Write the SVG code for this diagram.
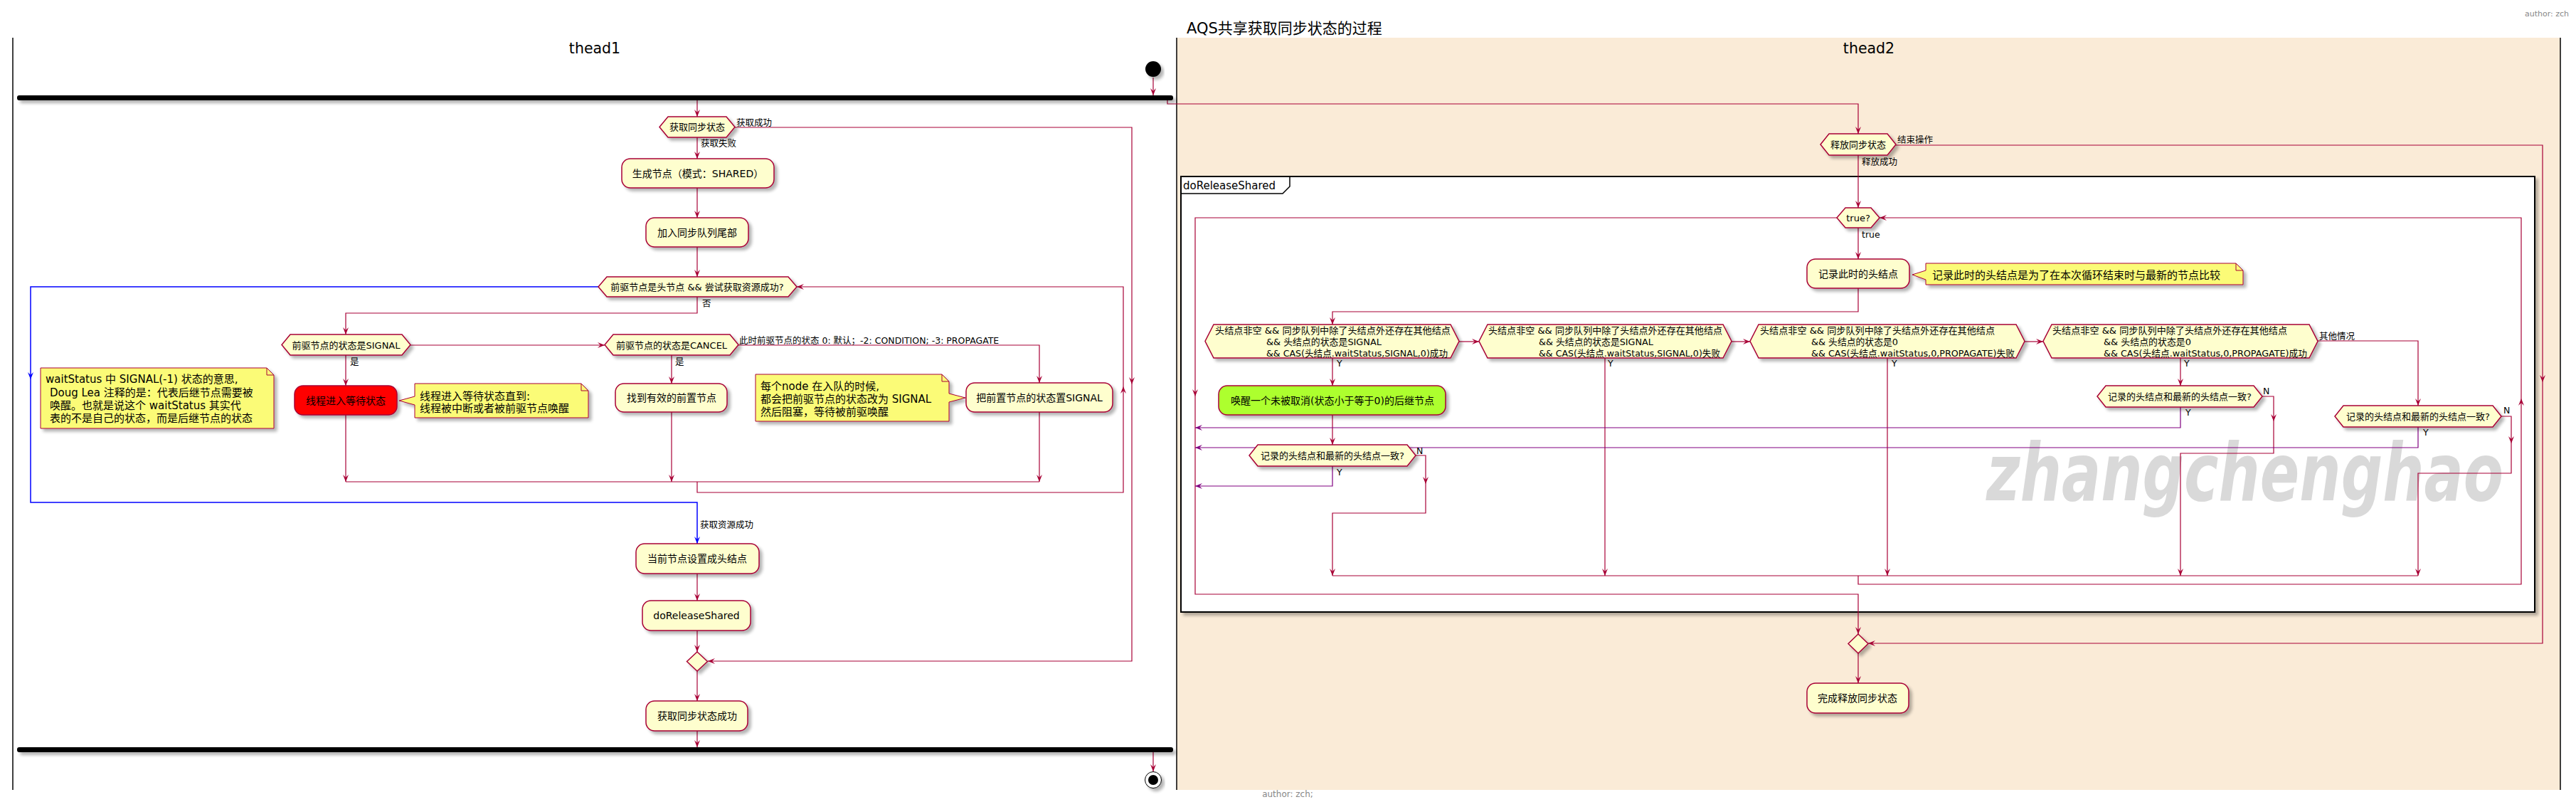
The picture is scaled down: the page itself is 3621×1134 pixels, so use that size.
<svg xmlns="http://www.w3.org/2000/svg" width="3621" height="1134" viewBox="0 0 3621 1134">
<style>
text{font-family:"DejaVu Sans","Noto Sans CJK SC",sans-serif;fill:#000}
.act{font-size:14px;text-anchor:middle}
.dec{font-size:13px}
.dc{font-size:13px;text-anchor:middle}
.lbl{font-size:12.5px}
.nt{font-size:15px}
.hdr{font-size:20.5px;text-anchor:middle}
.box{fill:#FEFECE;stroke:#A80036;stroke-width:1.5}
.note{fill:#FBFB77;stroke:#A80036;stroke-width:1}
.fold{fill:none;stroke:#A80036;stroke-width:1}
.ln{fill:none;stroke:#A80036;stroke-width:1.2}
.ar{fill:none;stroke:#A80036;stroke-width:1.2;marker-end:url(#a)}
.bl{fill:none;stroke:#0000FF;stroke-width:1.5}
.bla{fill:none;stroke:#0000FF;stroke-width:1.5;marker-end:url(#ab)}
.pa{fill:none;stroke:#800080;stroke-width:1.2;marker-end:url(#ap)}
.lane{stroke:#000;stroke-width:1.5}
.gray{fill:#888;font-size:11px}
</style>
<defs>
<marker id="a" viewBox="-11 -5 12 10" refX="0" refY="0" markerWidth="12" markerHeight="10" orient="auto" markerUnits="userSpaceOnUse"><path d="M-10,-4 L0,0 L-10,4 L-6,0 Z" fill="#A80036"/></marker>
<marker id="ab" viewBox="-11 -5 12 10" refX="0" refY="0" markerWidth="12" markerHeight="10" orient="auto" markerUnits="userSpaceOnUse"><path d="M-10,-4 L0,0 L-10,4 L-6,0 Z" fill="#0000FF"/></marker>
<marker id="ap" viewBox="-11 -5 12 10" refX="0" refY="0" markerWidth="12" markerHeight="10" orient="auto" markerUnits="userSpaceOnUse"><path d="M-10,-4 L0,0 L-10,4 L-6,0 Z" fill="#800080"/></marker>
<filter id="sh" x="-10%" y="-20%" width="130%" height="160%"><feGaussianBlur in="SourceAlpha" stdDeviation="2"/><feOffset dx="4" dy="4" result="o"/><feComponentTransfer><feFuncA type="linear" slope="0.3"/></feComponentTransfer><feMerge><feMergeNode/><feMergeNode in="SourceGraphic"/></feMerge></filter>
<filter id="shb" x="-2%" y="-100%" width="104%" height="400%"><feGaussianBlur in="SourceAlpha" stdDeviation="2"/><feOffset dx="4" dy="4"/><feComponentTransfer><feFuncA type="linear" slope="0.3"/></feComponentTransfer><feMerge><feMergeNode/><feMergeNode in="SourceGraphic"/></feMerge></filter>
</defs>
<rect width="3621" height="1134" fill="#FFFFFF"/>
<text class="gray" x="3611" y="23" text-anchor="end">author: zch</text>
<text x="1668" y="47" style="font-size:21px">AQS共享获取同步状态的过程</text>
<g id="lanes">
<rect x="1654" y="53" width="1945" height="1057" fill="#FAEBD7"/>
<line class="lane" x1="18" y1="53" x2="18" y2="1110"/>
<line class="lane" x1="1654" y1="53" x2="1654" y2="1110"/>
<line class="lane" x1="3599" y1="53" x2="3599" y2="1110"/>
<text class="hdr" x="836" y="75">thead1</text>
<text class="hdr" x="2627" y="75">thead2</text>
</g>
<g id="frame">
<rect x="1660" y="248" width="1903" height="612" fill="#FFFFFF" stroke="#000" stroke-width="2" filter="url(#sh)"/>
<path d="M1660,272 L1803,272 L1813,262 L1813,248" fill="none" stroke="#000" stroke-width="1.5"/>
<text x="1663" y="266" style="font-size:15px">doReleaseShared</text>
</g>
<text id="watermark" x="2792" y="703" textLength="727" lengthAdjust="spacingAndGlyphs" style="font-size:112px;font-style:italic;font-weight:bold;fill:#D9D9D9">zhangchenghao</text>
<g id="connectors">
<path class="ar" d="M1621,109 V134"/>
<path class="ar" d="M980,141 V164"/>
<path class="ar" d="M1641,141 V146 H2612 V188"/>
<path class="ar" d="M1033,179 H1591 V540"/>
<path class="ar" d="M1591,540 V929 H995"/>
<path class="ar" d="M980,193 V223"/>
<path class="ar" d="M980,264 V306"/>
<path class="ar" d="M980,347 V389"/>
<path class="bla" d="M841,403 H43 V533"/>
<path class="bla" d="M43,533 V706 H980 V764"/>
<path class="ar" d="M980,417 V440 H486 V470"/>
<path class="ar" d="M577,485 H850"/>
<path class="ar" d="M486,499 V542"/>
<path class="ar" d="M944,499 V539"/>
<path class="ar" d="M1038,485 H1461 V538"/>
<path class="ar" d="M486,583 V677"/>
<path class="ar" d="M944,579 V677"/>
<path class="ar" d="M1461,579 V677"/>
<path class="ln" d="M486,677 H1461"/>
<path class="ar" d="M980,677 V692 H1579 V543"/>
<path class="ar" d="M1579,543 V403 H1120"/>
<path class="ar" d="M980,806 V844"/>
<path class="ar" d="M980,886 V916"/>
<path class="ar" d="M980,943 V985"/>
<path class="ar" d="M980,1027 V1050"/>
<path class="ar" d="M1621,1057 V1084"/>
<path class="ar" d="M2665,204 H3574 V537"/>
<path class="ar" d="M3574,537 V904 H2626"/>
<path class="ar" d="M2612,218 V292"/>
<path class="ar" d="M2582,306 H1680 V557"/>
<path class="ar" d="M1680,557 V835 H2612 V891"/>
<path class="ar" d="M2612,320 V364"/>
<path class="ar" d="M2612,405 V438 H1873 V456"/>
<path class="ar" d="M2051,480 H2079"/>
<path class="ar" d="M2434,480 H2460"/>
<path class="ar" d="M2846,480 H2872"/>
<path class="ar" d="M3258,479 H3399 V570"/>
<path class="ar" d="M1873,503 V542"/>
<path class="ar" d="M1873,583 V625"/>
<path class="ar" d="M1990,640 H2004 V680"/>
<path class="ar" d="M2004,680 V721 H1873 V809"/>
<path class="pa" d="M1873,655 V683 H1680"/>
<path class="ar" d="M2256,503 V809"/>
<path class="ar" d="M2653,503 V809"/>
<path class="ar" d="M3065,503 V542"/>
<path class="ar" d="M3180,557 H3196 V592"/>
<path class="ar" d="M3196,592 V637 H3065 V809"/>
<path class="pa" d="M3065,572 V601 H1680"/>
<path class="ar" d="M3516,585 H3530 V623"/>
<path class="ar" d="M3530,623 V665 H3399 V809"/>
<path class="pa" d="M3399,600 V629 H1680"/>
<path class="ln" d="M1873,809 H3399"/>
<path class="ar" d="M2612,809 V821 H3544 V560"/>
<path class="ar" d="M3544,560 V306 H2642"/>
<path class="ar" d="M2612,918 V960"/>
<text class="lbl" x="1035" y="176.5">获取成功</text>
<text class="lbl" x="985" y="206">获取失败</text>
<text class="lbl" x="987" y="430.5">否</text>
<text class="lbl" x="492" y="512.5">是</text>
<text class="lbl" x="949" y="512.5">是</text>
<text class="lbl" x="1039" y="482.5">此时前驱节点的状态 0: 默认；-2: CONDITION; -3: PROPAGATE</text>
<text class="lbl" x="984" y="741.5">获取资源成功</text>
<text class="lbl" x="2667" y="201">结束操作</text>
<text class="lbl" x="2617" y="232">释放成功</text>
<text class="lbl" x="2617" y="334">true</text>
<text class="lbl" x="1879" y="514.5">Y</text>
<text class="lbl" x="2260" y="514.5">Y</text>
<text class="lbl" x="2659" y="514.5">Y</text>
<text class="lbl" x="3070" y="514.5">Y</text>
<text class="lbl" x="3260" y="476.5">其他情况</text>
<text class="lbl" x="3181" y="553.5">N</text>
<text class="lbl" x="3072" y="583.5">Y</text>
<text class="lbl" x="3519" y="581">N</text>
<text class="lbl" x="3406" y="612">Y</text>
<text class="lbl" x="1991" y="637.5">N</text>
<text class="lbl" x="1879" y="667.5">Y</text>
</g>
<g id="start"><circle cx="1621" cy="97" r="11" fill="#000" filter="url(#sh)"/></g>
<g id="fork"><rect x="24" y="134" width="1625" height="7" rx="3" fill="#000" filter="url(#shb)"/></g>
<g id="join"><rect x="24" y="1050" width="1625" height="7" rx="3" fill="#000" filter="url(#shb)"/></g>
<g id="end" filter="url(#sh)"><circle cx="1621" cy="1096" r="11.5" fill="#FFF" stroke="#000" stroke-width="1"/><circle cx="1621" cy="1096" r="7" fill="#000"/></g>
<g id="d_acquire"><polygon class="box" filter="url(#sh)" points="939,164 1021,164 1033,178.5 1021,193 939,193 927,178.5"/><text class="dc" x="980" y="183">获取同步状态</text></g>
<g id="n_create"><rect class="box" filter="url(#sh)" x="874" y="223" width="214" height="41" rx="12"/><text class="act" x="981" y="248.5">生成节点（模式：SHARED）</text></g>
<g id="n_enqueue"><rect class="box" filter="url(#sh)" x="908" y="306" width="144" height="41" rx="12"/><text class="act" x="980" y="331.5">加入同步队列尾部</text></g>
<g id="d_head"><polygon class="box" filter="url(#sh)" points="853,389 1108,389 1120,403 1108,417 853,417 841,403"/><text class="dc" x="980" y="407.5">前驱节点是头节点 &amp;&amp; 尝试获取资源成功?</text></g>
<g id="d_signal"><polygon class="box" filter="url(#sh)" points="408,470 565,470 577,484.5 565,499 408,499 396,484.5"/><text class="dc" x="486.5" y="489.5">前驱节点的状态是SIGNAL</text></g>
<g id="d_cancel"><polygon class="box" filter="url(#sh)" points="862,470 1026,470 1038,484.5 1026,499 862,499 850,484.5"/><text class="dc" x="944" y="489.5">前驱节点的状态是CANCEL</text></g>
<g id="n_wait"><rect filter="url(#sh)" x="414" y="542" width="144" height="41" rx="12" fill="#FF0000" stroke="#A80036" stroke-width="1.5"/><text class="act" x="486" y="567.5">线程进入等待状态</text></g>
<g id="note_wait"><path class="note" filter="url(#sh)" d="M583,539 H817 L827,549 V587 H583 V569 L561,563 L583,557 Z"/><path class="fold" d="M817,539 V549 H827"/><text class="nt" x="590" y="561.5">线程进入等待状态直到:</text><text class="nt" x="590" y="579">线程被中断或者被前驱节点唤醒</text></g>
<g id="note_status"><path class="note" filter="url(#sh)" d="M57,517 H375 L385,527 V602 H57 Z"/><path class="fold" d="M375,517 V527 H385"/><text class="nt" x="64" y="538">waitStatus 中 SIGNAL(-1) 状态的意思,</text><text class="nt" x="70" y="556.5">Doug Lea 注释的是：代表后继节点需要被</text><text class="nt" x="70" y="575">唤醒。也就是说这个 waitStatus 其实代</text><text class="nt" x="70" y="593">表的不是自己的状态，而是后继节点的状态</text></g>
<g id="n_findprev"><rect class="box" filter="url(#sh)" x="865" y="539" width="157" height="40" rx="12"/><text class="act" x="944" y="564">找到有效的前置节点</text></g>
<g id="note_node"><path class="note" filter="url(#sh)" d="M1062,526 H1324 L1334,536 V553 L1357,559 L1334,565 V592 H1062 Z"/><path class="fold" d="M1324,526 V536 H1334"/><text class="nt" x="1069" y="547.5">每个node 在入队的时候,</text><text class="nt" x="1069" y="565.5">都会把前驱节点的状态改为 SIGNAL</text><text class="nt" x="1069" y="584">然后阻塞，等待被前驱唤醒</text></g>
<g id="n_setsignal"><rect class="box" filter="url(#sh)" x="1358" y="538" width="206" height="41" rx="12"/><text class="act" x="1461" y="563.5">把前置节点的状态置SIGNAL</text></g>
<g id="n_sethead"><rect class="box" filter="url(#sh)" x="894" y="764" width="173" height="42" rx="12"/><text class="act" x="980" y="790">当前节点设置成头结点</text></g>
<g id="n_dorelease"><rect class="box" filter="url(#sh)" x="903" y="844" width="152" height="42" rx="12"/><text class="act" x="979" y="870">doReleaseShared</text></g>
<g id="m_merge1"><polygon class="box" filter="url(#sh)" points="980,916 994.5,929.5 980,943 965.5,929.5"/></g>
<g id="n_acqok"><rect class="box" filter="url(#sh)" x="908" y="985" width="143" height="42" rx="12"/><text class="act" x="980" y="1011">获取同步状态成功</text></g>
<g id="d_release"><polygon class="box" filter="url(#sh)" points="2571,188 2653,188 2665,203 2653,218 2571,218 2559,203"/><text class="dc" x="2612" y="207.5">释放同步状态</text></g>
<g id="d_true"><polygon class="box" filter="url(#sh)" points="2594,292 2630,292 2642,306 2630,320 2594,320 2582,306"/><text class="dc" x="2612" y="310.5">true?</text></g>
<g id="n_record"><rect class="box" filter="url(#sh)" x="2540" y="364" width="144" height="41" rx="12"/><text class="act" x="2612" y="389.5">记录此时的头结点</text></g>
<g id="note_record"><path class="note" filter="url(#sh)" d="M2707,370 H3143 L3153,380 V400 H2707 V393 L2688,386 L2707,380 Z"/><path class="fold" d="M3143,370 V380 H3153"/><text class="nt" x="2716" y="391.5">记录此时的头结点是为了在本次循环结束时与最新的节点比较</text></g>
<g id="d_c1"><polygon class="box" filter="url(#sh)" points="1706,456 2039,456 2051,479.5 2039,503 1706,503 1694,479.5"/><text class="dec" x="1708" y="469" textLength="331" lengthAdjust="spacingAndGlyphs">头结点非空 &amp;&amp; 同步队列中除了头结点外还存在其他结点</text><text class="dec" x="1780" y="485" textLength="162" lengthAdjust="spacingAndGlyphs">&amp;&amp; 头结点的状态是SIGNAL</text><text class="dec" x="1780" y="500.5" textLength="255" lengthAdjust="spacingAndGlyphs">&amp;&amp; CAS(头结点.waitStatus,SIGNAL,0)成功</text></g>
<g id="d_c2"><polygon class="box" filter="url(#sh)" points="2091,456 2422,456 2434,479.5 2422,503 2091,503 2079,479.5"/><text class="dec" x="2092" y="469" textLength="329" lengthAdjust="spacingAndGlyphs">头结点非空 &amp;&amp; 同步队列中除了头结点外还存在其他结点</text><text class="dec" x="2163" y="485" textLength="161" lengthAdjust="spacingAndGlyphs">&amp;&amp; 头结点的状态是SIGNAL</text><text class="dec" x="2163" y="500.5" textLength="255" lengthAdjust="spacingAndGlyphs">&amp;&amp; CAS(头结点.waitStatus,SIGNAL,0)失败</text></g>
<g id="d_c3"><polygon class="box" filter="url(#sh)" points="2472,456 2834,456 2846,479.5 2834,503 2472,503 2460,479.5"/><text class="dec" x="2474" y="469" textLength="330" lengthAdjust="spacingAndGlyphs">头结点非空 &amp;&amp; 同步队列中除了头结点外还存在其他结点</text><text class="dec" x="2546" y="485" textLength="122" lengthAdjust="spacingAndGlyphs">&amp;&amp; 头结点的状态是0</text><text class="dec" x="2546" y="500.5" textLength="286" lengthAdjust="spacingAndGlyphs">&amp;&amp; CAS(头结点.waitStatus,0,PROPAGATE)失败</text></g>
<g id="d_c4"><polygon class="box" filter="url(#sh)" points="2884,456 3246,456 3258,479.5 3246,503 2884,503 2872,479.5"/><text class="dec" x="2885" y="469" textLength="330" lengthAdjust="spacingAndGlyphs">头结点非空 &amp;&amp; 同步队列中除了头结点外还存在其他结点</text><text class="dec" x="2957" y="485" textLength="123" lengthAdjust="spacingAndGlyphs">&amp;&amp; 头结点的状态是0</text><text class="dec" x="2957" y="500.5" textLength="286" lengthAdjust="spacingAndGlyphs">&amp;&amp; CAS(头结点.waitStatus,0,PROPAGATE)成功</text></g>
<g id="n_wake"><rect filter="url(#sh)" x="1713" y="542" width="319" height="41" rx="12" fill="#ADFF2F" stroke="#A80036" stroke-width="1.5"/><text class="act" x="1873" y="567.5">唤醒一个未被取消(状态小于等于0)的后继节点</text></g>
<g id="d_same1"><polygon class="box" filter="url(#sh)" points="1768,625 1978,625 1990,640 1978,655 1768,655 1756,640"/><text class="dc" x="1873" y="644.5">记录的头结点和最新的头结点一致?</text></g>
<g id="d_same2"><polygon class="box" filter="url(#sh)" points="2960,542 3168,542 3180,557 3168,572 2960,572 2948,557"/><text class="dc" x="3064" y="561.5">记录的头结点和最新的头结点一致?</text></g>
<g id="d_same3"><polygon class="box" filter="url(#sh)" points="3294,570 3504,570 3516,585 3504,600 3294,600 3282,585"/><text class="dc" x="3399" y="589.5">记录的头结点和最新的头结点一致?</text></g>
<g id="m_merge2"><polygon class="box" filter="url(#sh)" points="2612,891 2626,904.5 2612,918 2598,904.5"/></g>
<g id="n_relok"><rect class="box" filter="url(#sh)" x="2540" y="960" width="143" height="42" rx="12"/><text class="act" x="2611" y="986">完成释放同步状态</text></g>
<text class="gray" x="1810" y="1120" text-anchor="middle" style="font-size:12px">author: zch;</text>
</svg>
